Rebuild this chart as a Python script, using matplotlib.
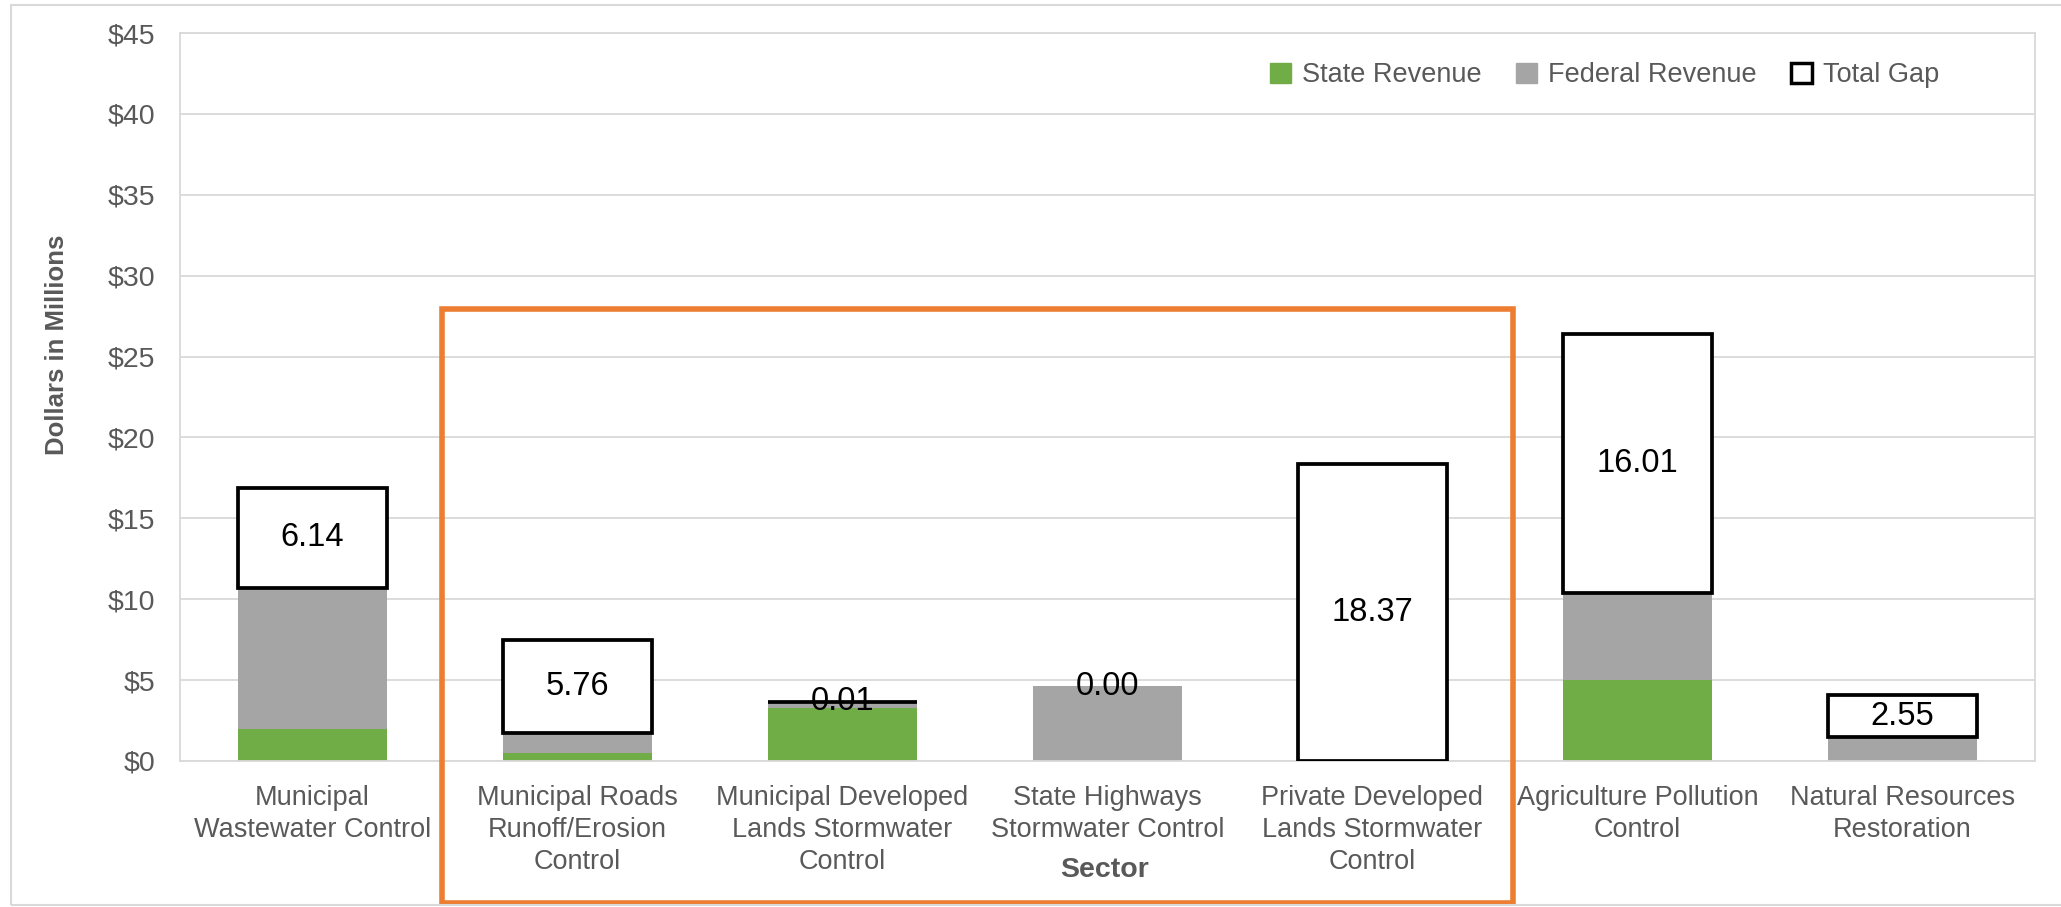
import matplotlib
matplotlib.use("Agg")
import matplotlib.pyplot as plt
import matplotlib.transforms as mtransforms
from matplotlib.patches import Rectangle, Patch
import numpy as np

# sector funding data, $ millions
sectors = [
    "Municipal\nWastewater Control",
    "Municipal Roads\nRunoff/Erosion\nControl",
    "Municipal Developed\nLands Stormwater\nControl",
    "State Highways\nStormwater Control",
    "Private Developed\nLands Stormwater\nControl",
    "Agriculture Pollution\nControl",
    "Natural Resources\nRestoration",
]
state_rev = [2.0, 0.5, 3.3, 0.0, 0.0, 5.0, 0.0]
federal_rev = [8.72, 1.2, 0.35, 4.63, 0.0, 5.4, 1.5]
total_gap = [6.14, 5.76, 0.01, 0.00, 18.37, 16.01, 2.55]
yticks = [0, 5, 10, 15, 20, 25, 30, 35, 40, 45]

GREEN = "#70AD47"
GRAY = "#A5A5A5"
ORANGE = "#ED7D31"
TXT = "#595959"
GRID = "#D9D9D9"

plt.rcParams["font.family"] = ["Liberation Sans", "DejaVu Sans"]

fig = plt.figure(figsize=(20.61, 9.07), dpi=100)
ax = fig.add_axes([0.0873, 0.161, 0.9001, 0.8026])

x = np.arange(len(sectors))
w = 0.56
state = np.array(state_rev)
fed = np.array(federal_rev)
gap = np.array(total_gap)

ax.bar(x, state, w, color=GREEN, zorder=2)
ax.bar(x, fed, w, bottom=state, color=GRAY, zorder=2)
lws = [2.7 if g > 0 else 0 for g in gap]
ax.bar(x, gap, w, bottom=state + fed, facecolor="white", edgecolor="black",
       linewidth=lws, zorder=3)

for xi, b, g in zip(x, state + fed, gap):
    ax.text(xi, b + g / 2, f"{g:.2f}", ha="center", va="center",
            fontsize=23.5, color="black", zorder=4)

ax.set_xlim(-0.5, len(sectors) - 0.5)
ax.set_ylim(0, 45)
ax.set_yticks(yticks)
ax.set_yticklabels([f"${v}" for v in yticks])
ax.set_xticks(x)
ax.set_xticklabels(sectors, linespacing=1.3)
ax.tick_params(axis="y", length=0, pad=17.5, labelsize=20.5, labelcolor=TXT)
ax.tick_params(axis="x", length=0, pad=17, labelsize=19.5, labelcolor=TXT)
ax.grid(axis="y", color=GRID, linewidth=1.3, zorder=0)
ax.set_axisbelow(True)
for s in ax.spines.values():
    s.set_color(GRID)
    s.set_linewidth(1.3)

fig.text(0.0276, 0.62, "Dollars in Millions", rotation=90, ha="center",
         va="center", fontsize=18.5, fontweight="bold", color=TXT,
         family=["Liberation Sans Narrow", "Liberation Sans", "DejaVu Sans"])
fig.text(0.5357, 0.041, "Sector", ha="center", va="center", fontsize=20.5,
         fontweight="bold", color=TXT)

handles = [
    Patch(facecolor=GREEN, edgecolor=GREEN),
    Patch(facecolor=GRAY, edgecolor=GRAY),
    Patch(facecolor="white", edgecolor="black", linewidth=2.5),
]
leg = ax.legend(handles, ["State Revenue", "Federal Revenue", "Total Gap"],
                loc="center", bbox_to_anchor=(0.768, 0.942), ncol=3,
                frameon=False, fontsize=19.5, handlelength=0.75,
                handleheight=0.75, handletextpad=0.4, columnspacing=1.3)
for t in leg.get_texts():
    t.set_color(TXT)

# orange highlight box around the stormwater sectors
trans = mtransforms.blended_transform_factory(ax.transData, fig.transFigure)
fig.add_artist(Rectangle((0.49, 0.004), 4.04, 0.655, transform=trans,
                         fill=False, edgecolor=ORANGE, linewidth=4,
                         clip_on=False))

# light chart border
fig.add_artist(Rectangle((11 / 2061, 0.002), 1.0, 0.9925,
                         transform=fig.transFigure, fill=False,
                         edgecolor=GRID, linewidth=1.5, clip_on=False))

fig.savefig("out.png", dpi=100)
